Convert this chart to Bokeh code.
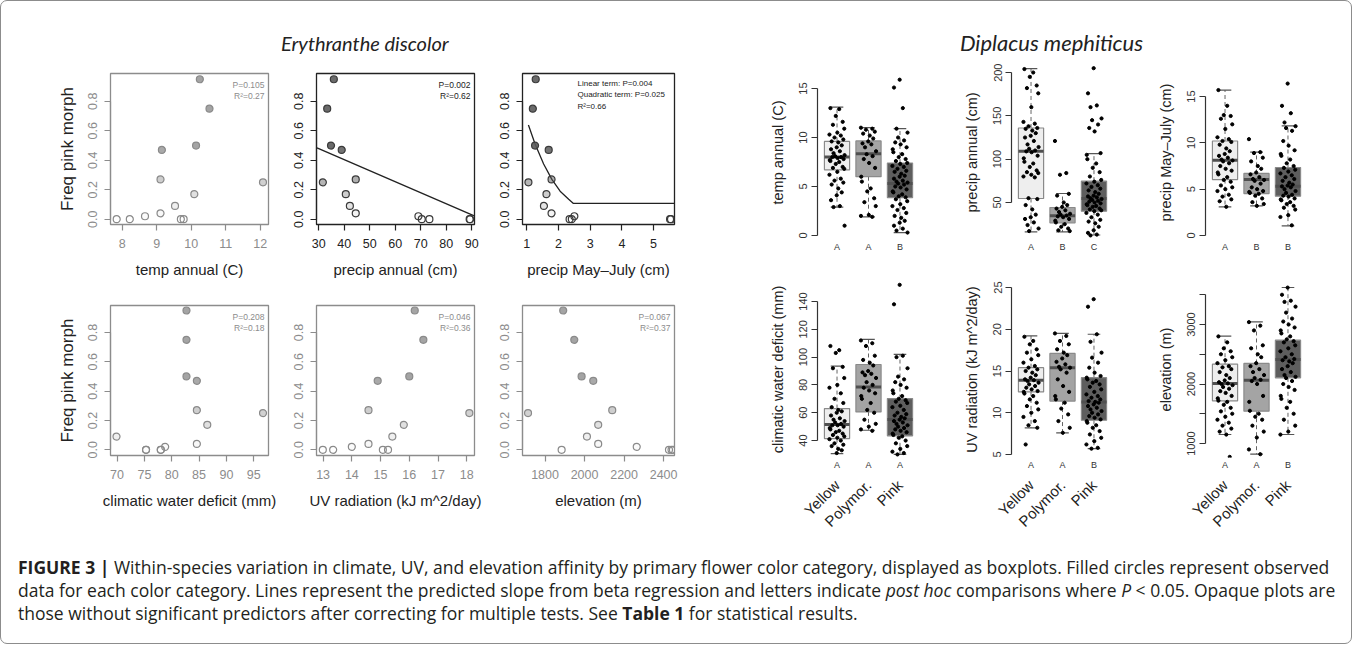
import math
from bokeh.plotting import figure
from bokeh.models import Range1d, FixedTicker, LinearAxis, Label, Div, Spacer, PrintfTickFormatter, ColumnDataSource
from bokeh.layouts import row, column
from bokeh.embed import file_html
from bokeh.resources import INLINE

FONT = "Liberation Sans"
GRAY = "#8c8c8c"
DARK = "#222222"

# ---------------- Erythranthe discolor (population frequencies) ----------------
Y_TICKS = [0, 0.2, 0.4, 0.6, 0.8]

temp_x = [7.84, 8.22, 8.66, 9.11, 9.11, 9.15, 9.53, 9.70, 9.78, 10.09, 10.14, 10.25, 10.53, 12.08]
temp_y = [0, 0, 0.02, 0.04, 0.27, 0.47, 0.09, 0, 0, 0.17, 0.50, 0.95, 0.75, 0.25]

pann_x = [35.9, 33.3, 34.8, 39.0, 31.6, 44.5, 40.6, 42.2, 44.5, 69.1, 70.4, 73.4, 89.2, 89.4]
pann_y = [0.95, 0.75, 0.50, 0.47, 0.25, 0.27, 0.17, 0.09, 0.04, 0.02, 0, 0, 0, 0]
pann_fit_x = [29.3, 91.0]
pann_fit_y = [0.484, 0.023]

pmj_x = [1.28, 1.19, 1.26, 1.69, 1.05, 1.78, 1.62, 1.54, 1.78, 2.35, 2.42, 2.50, 5.52, 5.55]
pmj_y = [0.95, 0.75, 0.50, 0.47, 0.25, 0.27, 0.17, 0.09, 0.04, 0, 0, 0.02, 0, 0]
pmj_fit_x = [1.05, 1.26, 1.53, 1.79, 2.05, 2.32, 2.47, 5.66]
pmj_fit_y = [0.64, 0.51, 0.375, 0.27, 0.19, 0.136, 0.107, 0.107]

cwd_x = [82.7, 82.7, 82.7, 84.6, 84.6, 86.5, 84.6, 69.9, 75.3, 75.3, 78.0, 78.0, 78.8, 96.7]
cwd_y = [0.95, 0.75, 0.50, 0.47, 0.27, 0.17, 0.04, 0.09, 0, 0, 0, 0, 0.02, 0.25]

uv_x = [16.19, 16.49, 16.0, 14.9, 14.58, 15.81, 15.41, 14.58, 14.0, 12.99, 13.35, 15.08, 15.26, 18.09]
uv_y = [0.95, 0.75, 0.50, 0.47, 0.27, 0.17, 0.09, 0.04, 0.02, 0, 0, 0, 0, 0.25]

elev_x = [1892, 1948, 1985, 2044, 2140, 2069, 2012, 2069, 1884, 2264, 1714, 2427, 2440, 2447]
elev_y = [0.95, 0.75, 0.50, 0.47, 0.27, 0.17, 0.09, 0.04, 0, 0.02, 0.25, 0, 0, 0]

# ---------------- Diplacus mephiticus (boxplots) ----------------
CATS = ["Yellow", "Polymor.", "Pink"]
CAT_X = [1, 2, 3]
BOX_FILL = ["#eeeeee", "#a4a4a4", "#5e5e5e"]
JITTER = [-0.21, 0.07, -0.04, 0.18, -0.13, 0.23, 0.01, -0.24, 0.12, -0.08, 0.2, -0.17,
          0.04, 0.15, -0.01, -0.19, 0.09, -0.11, 0.24, -0.06, 0.13, -0.15, 0.02, 0.21, -0.23]

temp_box = dict(lo=[2.9, 1.9, 0.3], q1=[6.7, 6.0, 3.85], med=[8.0, 8.35, 5.3], q3=[9.6, 9.65, 7.4], hi=[13.1, 11.0, 10.9])
temp_pts = [
    [13.0, 12.9, 12.2, 11.6, 11.3, 10.9, 10.5, 10.3, 10.2, 10.0, 9.8, 9.6, 9.5, 9.2, 9.0, 8.8, 8.6, 8.4, 8.2, 8.1, 8.0,
     8.0, 7.9, 7.8, 7.7, 7.6, 7.5, 7.3, 7.0, 6.9, 6.8, 6.5, 6.2, 5.8, 5.6, 5.4, 5.2, 4.8, 4.4, 4.1, 3.6, 3.0, 2.9, 1.0],
    [11.0, 10.9, 10.8, 10.6, 10.4, 10.2, 9.9, 9.6, 9.4, 9.3, 9.0, 8.6, 8.3, 8.1, 7.8, 7.4, 6.9, 6.0, 5.5, 4.8, 4.5,
     3.8, 3.4, 3.0, 2.1, 2.0, 1.9],
    [15.9, 15.1, 13.0, 10.9, 10.5, 10.0, 9.7, 9.5, 9.3, 9.0, 8.8, 8.5, 8.3, 8.0, 7.8, 7.6, 7.4, 7.3, 7.1, 7.0, 6.8,
     6.6, 6.5, 6.3, 6.1, 6.0, 5.8, 5.6, 5.5, 5.4, 5.3, 5.2, 5.0, 4.9, 4.7, 4.5, 4.4, 4.2, 4.0, 3.9, 3.7, 3.5, 3.2,
     3.0, 2.8, 2.6, 2.3, 2.0, 1.8, 1.5, 1.3, 1.0, 0.7, 0.5, 0.3],
]

pann_box = dict(lo=[16, 16, 12.5], q1=[54.6, 26.6, 40], med=[109, 34.6, 54.6], q3=[136, 44.2, 74.6], hi=[204.6, 60.4, 106.5])
pann_pts = [
    [204, 200, 195, 185, 182, 176, 160, 143, 141, 138, 136, 135, 133, 130, 127, 125, 121, 117, 114, 112, 110, 109,
     108, 104, 101, 97, 95, 91, 87, 85, 84, 82, 80, 79, 55, 54, 47, 42, 36, 33, 31, 27, 24, 20, 17],
    [121, 84, 82, 60, 58, 50, 47, 45, 43, 41, 39, 37, 36, 35, 34, 33, 31, 29, 27, 25, 22, 20, 18, 17],
    [205, 176, 162, 160, 147, 145, 140, 136, 132, 107, 105, 100, 95, 90, 85, 80, 76, 74, 72, 70, 68, 66, 64, 62, 60,
     58, 57, 56, 55, 54, 53, 52, 51, 50, 49, 48, 47, 46, 45, 43, 42, 41, 40, 38, 36, 33, 30, 28, 26, 22, 18, 15, 13, 12],
]

pmj_box = dict(lo=[3.1, 3.2, 1.05], q1=[6.04, 4.53, 4.25], med=[8.13, 6.04, 5.33], q3=[10.2, 6.7, 7.34], hi=[15.7, 9.0, 11.84])
pmj_pts = [
    [15.7, 14.0, 13.0, 12.9, 12.6, 12.0, 11.5, 10.6, 10.4, 10.2, 10.1, 9.8, 9.4, 9.1, 8.8, 8.6, 8.4, 8.2, 8.1, 8.0,
     7.8, 7.5, 7.2, 7.0, 6.8, 6.6, 6.3, 6.0, 5.8, 5.4, 5.2, 5.0, 4.8, 4.4, 4.2, 3.9, 3.7, 3.1],
    [10.4, 9.0, 8.9, 8.4, 8.0, 7.5, 7.2, 6.8, 6.6, 6.3, 6.1, 6.0, 5.9, 5.6, 5.2, 5.0, 4.8, 4.7, 4.6, 4.5, 4.3, 4.0,
     3.6, 3.4, 3.2],
    [16.4, 14.0, 13.2, 12.2, 11.8, 11.6, 11.3, 10.2, 9.7, 9.2, 8.8, 8.6, 8.2, 7.8, 7.5, 7.3, 7.1, 6.9, 6.7, 6.5, 6.3,
     6.1, 5.9, 5.7, 5.5, 5.4, 5.3, 5.2, 5.0, 4.8, 4.6, 4.4, 4.3, 4.2, 4.0, 3.9, 3.8, 3.6, 3.4, 3.2, 3.0, 2.8, 2.2,
     2.0, 1.1],
]

cwd_box = dict(lo=[30.6, 47.4, 30], q1=[41.4, 60.6, 43.4], med=[51.5, 78.6, 55.1], q3=[63, 94.7, 70.2], hi=[93.5, 112.7, 102])
cwd_pts = [
    [108, 105, 103, 93, 92, 85, 80, 78, 74, 70, 67, 64, 62, 61, 60, 58, 56, 55, 54, 53, 52, 51, 51, 50, 49, 48, 47,
     46, 45, 44, 43, 42, 41, 40, 38, 37, 36, 34, 33, 31],
    [112, 110, 108, 101, 98, 96, 94, 90, 89, 88, 87, 85, 82, 80, 78, 76, 74, 72, 70, 67, 62, 60, 55, 52, 50, 48, 47],
    [152, 138, 101, 100, 92, 86, 84, 82, 80, 78, 76, 74, 72, 70, 69, 68, 67, 65, 64, 62, 60, 59, 58, 57, 56, 55, 54,
     53, 52, 51, 50, 49, 48, 47, 46, 45, 44, 43, 42, 40, 38, 36, 34, 32, 31, 30],
]

uv_box = dict(lo=[8.2, 7.6, 5.7], q1=[12.5, 11.4, 9.1], med=[13.9, 15.4, 11.3], q3=[15.4, 17.1, 14.2], hi=[19.2, 19.5, 19.4])
uv_pts = [
    [19.1, 18.6, 18.2, 17.6, 17.2, 16.9, 16.4, 16.0, 15.6, 15.4, 15.2, 15.0, 14.8, 14.5, 14.2, 14.0, 13.9, 13.8,
     13.6, 13.4, 13.2, 13.0, 12.8, 12.6, 12.5, 12.3, 12.0, 11.6, 11.2, 10.8, 10.4, 10.0, 9.5, 9.0, 8.5, 8.2, 6.2],
    [19.5, 19.2, 18.6, 18.2, 17.6, 17.2, 16.9, 16.5, 16.1, 15.8, 15.5, 15.4, 15.2, 14.8, 14.0, 13.2, 12.5, 12.0,
     11.6, 11.2, 10.5, 9.8, 9.0, 8.2, 7.6],
    [23.6, 22.7, 19.4, 18.5, 17.2, 16.6, 16.0, 15.4, 14.8, 14.4, 14.2, 14.0, 13.8, 13.6, 13.4, 13.1, 12.8, 12.5,
     12.2, 12.0, 11.8, 11.6, 11.4, 11.3, 11.2, 11.0, 10.8, 10.6, 10.4, 10.2, 10.0, 9.8, 9.6, 9.4, 9.2, 9.0, 8.8,
     8.5, 8.2, 7.8, 7.4, 7.0, 6.6, 6.2, 5.8, 5.7],
]

elev_box = dict(lo=[1151, 820, 1151], q1=[1718, 1543, 2104], med=[2008, 2064, 2412], q3=[2333, 2345, 2736], hi=[2803, 3045, 3622])
elev_pts = [
    [2800, 2700, 2600, 2550, 2500, 2450, 2400, 2350, 2300, 2280, 2250, 2200, 2150, 2100, 2060, 2030, 2010, 2000,
     1980, 1950, 1920, 1880, 1850, 1800, 1760, 1720, 1700, 1650, 1600, 1540, 1500, 1450, 1400, 1350, 1300, 1250,
     1200, 1150, 775],
    [3040, 2980, 2900, 2650, 2600, 2500, 2450, 2350, 2300, 2250, 2200, 2150, 2100, 2070, 2050, 2000, 1800, 1700,
     1550, 1500, 1450, 1400, 1300, 1200, 1100, 900, 820],
    [3620, 3500, 3400, 3380, 3300, 3200, 3100, 3050, 3000, 2950, 2900, 2850, 2800, 2750, 2720, 2700, 2650, 2600,
     2550, 2500, 2450, 2420, 2400, 2380, 2350, 2300, 2250, 2200, 2150, 2120, 2100, 2050, 2000, 1950, 1900, 1800,
     1750, 1700, 1600, 1500, 1400, 1300, 1200, 1150],
]


def scatter_panel(xs, ys, xr, yr, xticks, xlabel, stats, sig, width, height, bl, br, bt, bb,
                  ylabel=None, fit_x=None, fit_y=None, stats_left=False):
    c = DARK if sig else GRAY
    p = figure(width=width, height=height, x_range=Range1d(*xr), y_range=Range1d(*yr),
               output_backend="svg", toolbar_location=None,
               min_border_left=bl, min_border_right=br, min_border_top=bt, min_border_bottom=bb)
    p.xgrid.visible = False
    p.ygrid.visible = False
    p.outline_line_color = c
    p.outline_line_width = 1.3
    p.outline_line_alpha = 1.0
    for ax, ticks in ((p.xaxis[0], xticks), (p.yaxis[0], Y_TICKS)):
        ax.ticker = FixedTicker(ticks=ticks)
        ax.bounds = (ticks[0], ticks[-1])
        ax.axis_line_color = c
        ax.axis_line_width = 1.2
        ax.major_tick_line_color = c
        ax.major_tick_line_width = 1.2
        ax.minor_tick_line_color = None
        ax.major_tick_out = 6
        ax.major_tick_in = 0
        ax.major_label_text_color = c
        ax.major_label_text_font = FONT
        ax.major_label_text_font_size = "12.5px"
        ax.axis_label_text_font = FONT
        ax.axis_label_text_font_style = "normal"
        ax.axis_label_text_color = DARK
    p.yaxis[0].formatter = PrintfTickFormatter(format="%.1f")
    p.yaxis[0].major_label_orientation = "vertical"
    p.yaxis[0].major_label_standoff = 7
    p.xaxis[0].major_label_standoff = 8
    p.xaxis[0].axis_label = xlabel
    p.xaxis[0].axis_label_text_font_size = "15px"
    p.xaxis[0].axis_label_standoff = 10
    if ylabel:
        p.yaxis[0].axis_label = ylabel
        p.yaxis[0].axis_label_text_font_size = "17px"
        p.yaxis[0].axis_label_standoff = 9
    if fit_x is not None:
        p.line(fit_x, fit_y, line_color=DARK, line_width=1.3)
    alphas = [min(1.0, v * 2.0) * 0.9 for v in ys]
    src = ColumnDataSource(dict(x=xs, y=ys, a=alphas))
    p.scatter("x", "y", source=src, size=7, line_color=("#3a3a3a" if sig else "#8a8a8a"), line_width=1.2,
              fill_color=("#5a5a5a" if sig else "#9a9a9a"), fill_alpha="a")
    if stats_left:
        p.add_layout(Label(x=xr[0], y=yr[1], x_offset=55, y_offset=-5, text=stats, text_align="left",
                           text_baseline="top", text_font=FONT, text_font_size="8px", text_color=c,
                           text_line_height=1.3))
    else:
        p.add_layout(Label(x=xr[1], y=yr[1], x_offset=-4, y_offset=-6, text=stats, text_align="right",
                           text_baseline="top", text_font=FONT, text_font_size="8.5px", text_color=c,
                           text_line_height=1.1))
    return p


def box_panel(pts, st, yr, yticks, ylabel, letters, height, bb, cat_axis=False, hide=None):
    c = "#333333"
    p = figure(width=194, height=height, x_range=Range1d(0.38, 3.62), y_range=Range1d(*yr),
               output_backend="svg", toolbar_location=None,
               min_border_left=58, min_border_right=34, min_border_top=2, min_border_bottom=bb)
    p.outline_line_color = None
    p.xgrid.visible = False
    p.ygrid.visible = False
    ya = p.yaxis[0]
    ya.ticker = FixedTicker(ticks=yticks)
    ya.bounds = (yticks[0], yticks[-1])
    ya.axis_line_color = c
    ya.axis_line_width = 1.2
    ya.major_tick_line_color = c
    ya.major_tick_line_width = 1.2
    ya.minor_tick_line_color = None
    ya.major_tick_out = 6
    ya.major_tick_in = 0
    ya.major_label_orientation = "vertical"
    ya.major_label_text_font = FONT
    ya.major_label_text_font_size = "11px"
    ya.major_label_text_color = c
    ya.major_label_standoff = 4
    ya.axis_label = ylabel
    ya.axis_label_text_font = FONT
    ya.axis_label_text_font_style = "normal"
    ya.axis_label_text_font_size = "14.5px"
    ya.axis_label_text_color = DARK
    ya.axis_label_standoff = 11
    if hide:
        ya.major_label_overrides = {v: "" for v in hide}
    xa = p.xaxis[0]
    xa.ticker = FixedTicker(ticks=CAT_X)
    xa.major_label_overrides = {k: l for k, l in zip(CAT_X, letters)}
    xa.axis_line_color = None
    xa.major_tick_line_color = None
    xa.minor_tick_line_color = None
    xa.major_tick_out = 0
    xa.major_tick_in = 0
    xa.major_label_text_font = FONT
    xa.major_label_text_font_size = "9px"
    xa.major_label_text_color = c
    xa.major_label_standoff = 2
    if cat_axis:
        ca = LinearAxis(ticker=FixedTicker(ticks=CAT_X),
                        major_label_overrides={k: l for k, l in zip(CAT_X, CATS)},
                        major_label_orientation=math.pi / 4, axis_line_color=None,
                        major_tick_line_color=None, minor_tick_line_color=None,
                        major_tick_out=0, major_tick_in=0, major_label_standoff=10,
                        major_label_text_font=FONT, major_label_text_font_size="15px",
                        major_label_text_color=DARK)
        p.add_layout(ca, "below")
    # boxes
    bsrc = ColumnDataSource(dict(x=CAT_X, lo=st["lo"], q1=st["q1"], med=st["med"], q3=st["q3"], hi=st["hi"],
                                 fill=BOX_FILL,
                                 xl=[v - 0.4 for v in CAT_X], xr=[v + 0.4 for v in CAT_X],
                                 cl=[v - 0.2 for v in CAT_X], cr=[v + 0.2 for v in CAT_X]))
    p.segment("x", "q3", "x", "hi", source=bsrc, line_color="#666666", line_dash="4 3", line_width=1)
    p.segment("x", "q1", "x", "lo", source=bsrc, line_color="#666666", line_dash="4 3", line_width=1)
    p.segment("cl", "hi", "cr", "hi", source=bsrc, line_color="#555555", line_width=1.2)
    p.segment("cl", "lo", "cr", "lo", source=bsrc, line_color="#555555", line_width=1.2)
    p.vbar(x="x", bottom="q1", top="q3", width=0.8, source=bsrc, fill_color="fill", line_color="#8a8a8a",
           line_width=1.2)
    p.segment("xl", "med", "xr", "med", source=bsrc, line_color="#505050", line_width=3)
    # points
    for gi, vals in enumerate(pts):
        xs = [CAT_X[gi] + JITTER[(i + 7 * gi) % len(JITTER)] for i in range(len(vals))]
        p.scatter(xs, vals, size=3.2, fill_color="black", line_color="black")
    return p


# ---------------- left block ----------------
L1 = scatter_panel(temp_x, temp_y, (7.66, 12.24), (-0.036, 0.989), [8, 9, 10, 11, 12], "temp annual (C)",
                   "P=0.105\nR\u00b2=0.27", False, 284, 220, 109, 17, 10, 59, ylabel="Freq pink morph")
L2 = scatter_panel(pann_x, pann_y, (29.1, 91.1), (-0.036, 0.989), [30, 40, 50, 60, 70, 80, 90],
                   "precip annual (cm)", "P=0.002\nR\u00b2=0.62", True, 208, 220, 31, 19, 10, 59,
                   fit_x=pann_fit_x, fit_y=pann_fit_y)
L3 = scatter_panel(pmj_x, pmj_y, (0.863, 5.66), (-0.036, 0.989), [1, 2, 3, 4, 5], "precip May\u2013July (cm)",
                   "Linear term: P=0.004\nQuadratic term: P=0.025\nR\u00b2=0.66", True, 200, 220, 29, 19, 10, 59,
                   fit_x=pmj_fit_x, fit_y=pmj_fit_y, stats_left=True)
L4 = scatter_panel(cwd_x, cwd_y, (68.8, 97.7), (-0.039, 0.984), [70, 75, 80, 85, 90, 95],
                   "climatic water deficit (mm)", "P=0.208\nR\u00b2=0.18", False, 284, 265, 109, 17, 22, 93,
                   ylabel="Freq pink morph")
L5 = scatter_panel(uv_x, uv_y, (12.77, 18.27), (-0.039, 0.984), [13, 14, 15, 16, 17, 18],
                   "UV radiation (kJ m^2/day)", "P=0.046\nR\u00b2=0.36", False, 208, 265, 31, 19, 22, 93)
L6 = scatter_panel(elev_x, elev_y, (1686, 2455), (-0.039, 0.984), [1800, 2000, 2200, 2400],
                   "elevation (m)", "P=0.067\nR\u00b2=0.37", False, 200, 265, 29, 19, 22, 93)

title_L = Div(text='<div style="font-family:Lato; font-style:italic; font-size:20px; color:#222; '
                   'padding-left:275px; padding-top:23px; white-space:nowrap;">Erythranthe discolor</div>',
              width=692, height=52)
left_block = column(title_L, row(L1, L2, L3), row(L4, L5, L6))

# ---------------- right block ----------------
R1 = box_panel(temp_pts, temp_box, (-0.41, 17.35), [0, 5, 10, 15], "temp annual (C)", ["A", "A", "B"], 216, 40)
R2 = box_panel(pann_pts, pann_box, (7.3, 208.1), [50, 100, 150, 200], "precip annual (cm)", ["A", "B", "C"], 216, 40)
R3 = box_panel(pmj_pts, pmj_box, (-0.43, 18.35), [0, 5, 10, 15], "precip May\u2013July (cm)", ["A", "B", "B"], 216, 40)
R4 = box_panel(cwd_pts, cwd_box, (27.8, 154.4), [40, 60, 80, 100, 120, 140], "climatic water deficit (mm)",
               ["A", "A", "A"], 269, 91, cat_axis=True)
R5 = box_panel(uv_pts, uv_box, (4.64, 25.72), [5, 10, 15, 20, 25], "UV radiation (kJ m^2/day)",
               ["A", "A", "B"], 269, 91, cat_axis=True)
R6 = box_panel(elev_pts, elev_box, (764.7, 3722.7), [1000, 1500, 2000, 2500, 3000, 3500], "elevation (m)",
               ["A", "A", "B"], 269, 91, cat_axis=True, hide=[1500, 2500, 3500])

title_R = Div(text='<div style="font-family:Lato; font-style:italic; font-size:22px; color:#222; '
                   'padding-left:196px; padding-top:21px; white-space:nowrap;">Diplacus mephiticus</div>',
              width=582, height=52)
right_block = column(title_R, row(R1, R2, R3), row(R4, R5, R6))

caption = Div(text=(
    '<div style="font-family:\'Open Sans\'; font-size:17.5px; line-height:23px; color:#231f20; '
    'padding-left:12px; padding-top:3px; white-space:nowrap;">'
    '<b>FIGURE 3 |</b> Within-species variation in climate, UV, and elevation affinity by primary flower color '
    'category, displayed as boxplots. Filled circles represent observed<br>'
    'data for each color category. Lines represent the predicted slope from beta regression and letters indicate '
    '<i>post hoc</i> comparisons where <i>P</i> &lt; 0.05. Opaque plots are<br>'
    'those without significant predictors after correcting for multiple tests. See <b>Table 1</b> for statistical '
    'results.</div>'), width=1340, height=85)

main = row(left_block, Spacer(width=56, height=537), right_block)
layout = column(main, caption, styles={"border": "1px solid #8c8c8c", "border-radius": "7px"})

open("out.html", "w").write(file_html(layout, INLINE))
